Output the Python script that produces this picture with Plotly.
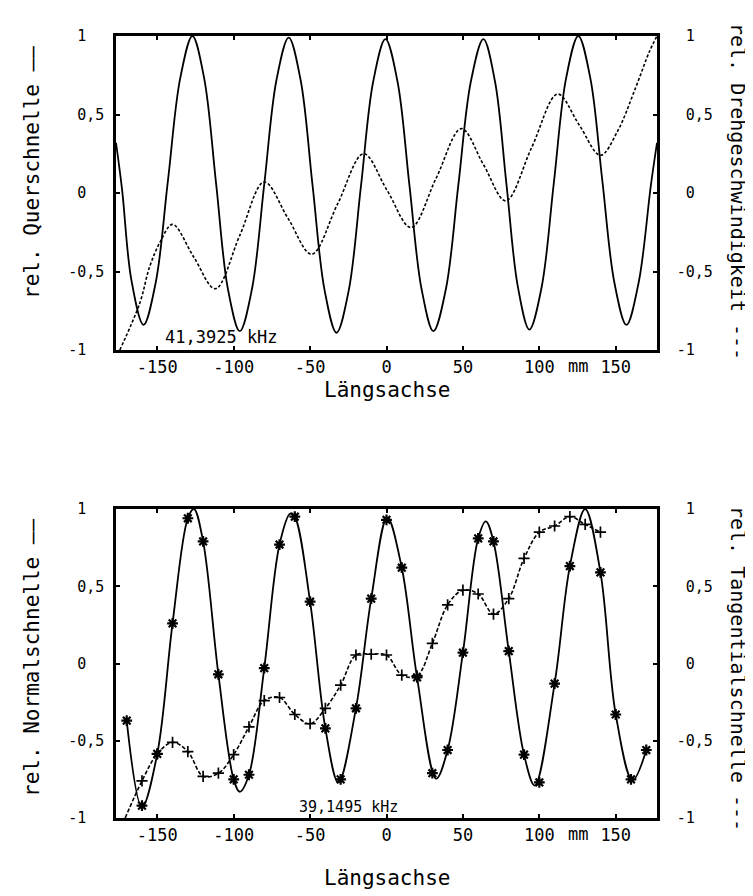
import plotly.graph_objects as go

# ---------------- data ----------------
# Top panel: 41,3925 kHz
top_solid_x = [-177, -173, -167, -159, -151, -143, -135, -127, -119.3, -111.5, -103.8, -96,
               -88, -80, -72, -64, -56.2, -48.4, -40.5, -32.7, -24.7, -16.7, -8.7, -0.7,
               7.2, 15, 22.9, 30.7, 38.9, 47, 55.2, 63.4, 71, 78.5, 86, 93.5,
               101.5, 109.5, 117.5, 125.5, 133.4, 141.2, 149.1, 157, 165, 173, 177]
top_solid_y = [0.32, 0.02, -0.55, -0.84, -0.57, 0.08, 0.73, 1.0, 0.73, 0.06, -0.61, -0.88,
               -0.61, 0.055, 0.72, 0.99, 0.72, 0.05, -0.62, -0.89, -0.62, 0.045, 0.71, 0.98,
               0.71, 0.05, -0.61, -0.88, -0.61, 0.05, 0.71, 0.98, 0.71, 0.055, -0.6, -0.87,
               -0.6, 0.065, 0.73, 1.0, 0.73, 0.08, -0.57, -0.84, -0.57, 0.05, 0.32]

top_dash_x = [-174.5, -161.4, -155, -148, -140, -126, -112, -96, -80, -64.5, -49, -32,
              -15, 0.5, 16, 32.5, 49, 63.5, 78, 95, 112, 126, 140, 151, 163, 172, 177]
top_dash_y = [-1.0, -0.7, -0.47, -0.31, -0.2, -0.41, -0.61, -0.27, 0.07, -0.16, -0.39, -0.07,
              0.25, 0.015, -0.22, 0.095, 0.41, 0.18, -0.05, 0.29, 0.63, 0.435, 0.24, 0.39, 0.67, 0.9, 1.0]

# Bottom panel: 39,1495 kHz
# fitted normal-velocity curve
bot_solid_x = [-170, -160, -150, -140, -130, -126, -120, -110, -100, -96, -90, -80, -70, -63,
               -60, -50, -40, -31.5, -20, -10, 0.5, 10, 20, 32.5, 40, 50, 60, 65, 70, 80, 90,
               97, 110, 120, 130, 140, 150, 161, 170]
bot_solid_y = [-0.37, -0.93, -0.585, 0.26, 0.94, 1.0, 0.79, -0.07, -0.75, -0.83, -0.72, -0.03,
               0.77, 0.97, 0.95, 0.40, -0.42, -0.77, -0.29, 0.42, 0.945, 0.62, -0.09, -0.745,
               -0.56, 0.07, 0.81, 0.92, 0.79, 0.08, -0.59, -0.79, -0.13, 0.63, 1.0, 0.59,
               -0.33, -0.755, -0.56]
# measured normal velocity (asterisks)
bot_star_x = [-170, -160, -150, -140, -130, -120, -110, -100, -90, -80, -70, -60, -50, -40,
              -30, -20, -10, 0, 10, 20, 30, 40, 50, 60, 70, 80, 90, 100, 110, 120, 140,
              150, 160, 170]
bot_star_y = [-0.37, -0.92, -0.585, 0.26, 0.94, 0.79, -0.07, -0.75, -0.72, -0.03, 0.77, 0.95,
              0.40, -0.42, -0.75, -0.29, 0.42, 0.93, 0.62, -0.09, -0.71, -0.56, 0.07, 0.81,
              0.79, 0.08, -0.59, -0.77, -0.13, 0.63, 0.59, -0.33, -0.75, -0.56]
# measured tangential velocity (plus signs)
bot_plus_x = [-160, -150, -140, -130, -120, -110, -100, -90, -80, -70, -60, -50, -40, -30,
              -20, -10, 0, 10, 20, 30, 40, 50, 60, 70, 80, 90, 100, 110, 120, 130, 140]
bot_plus_y = [-0.76, -0.585, -0.51, -0.57, -0.73, -0.71, -0.59, -0.41, -0.24, -0.22, -0.33,
              -0.39, -0.29, -0.14, 0.055, 0.06, 0.055, -0.075, -0.08, 0.13, 0.38, 0.475, 0.45,
              0.32, 0.42, 0.68, 0.85, 0.89, 0.95, 0.90, 0.85]
bot_dash_start_x = [-171]
bot_dash_start_y = [-1.0]

x_ticks = [-150, -100, -50, 0, 50, 100, 150]
x_ticktext = ["-150", "-100", "-50", "0", "50", "100", "150"]
y_ticks = [-1, -0.5, 0, 0.5, 1]
y_ticktext_left = ["-1\u00a0\u00a0", "-0,5", "0\u00a0\u00a0", "0,5", "1\u00a0\u00a0"]
y_ticktext_right = ["-1", "-0,5", "\u00a00", "\u00a00,5", "\u00a01"]

freq_top = "41,3925 kHz"
freq_bot = "39,1495 kHz"

# ---------------- figure ----------------
MONO = "DejaVu Sans Mono"
OFFX, OFFY = 6, 7  # page offset of the plot div
W, H = 747, 888
L, R, T, B = 108, 98, 28, 78
PH = H - T - B
PW = W - L - R
def py(p):
    # reference pixel y -> paper fraction
    return (H - B - (p - OFFY)) / PH
def px(p):
    return (p - OFFX - L) / PW

fig = go.Figure()
blk = "black"

fig.add_trace(go.Scatter(x=top_solid_x, y=top_solid_y, mode="lines",
                         line=dict(color=blk, width=1.8, shape="spline", smoothing=1),
                         xaxis="x", yaxis="y", showlegend=False))
fig.add_trace(go.Scatter(x=top_dash_x, y=top_dash_y, mode="lines",
                         line=dict(color=blk, width=1.6, dash="3px,2px", shape="spline", smoothing=1),
                         xaxis="x", yaxis="y2", showlegend=False))

fig.add_trace(go.Scatter(x=bot_solid_x, y=bot_solid_y, mode="lines",
                         line=dict(color=blk, width=1.8, shape="spline", smoothing=1),
                         xaxis="x2", yaxis="y3", showlegend=False))
fig.add_trace(go.Scatter(x=bot_star_x, y=bot_star_y, mode="markers",
                         marker=dict(symbol="asterisk-open", size=9, color=blk,
                                     line=dict(color=blk, width=2.2)),
                         xaxis="x2", yaxis="y3", showlegend=False))
fig.add_trace(go.Scatter(x=bot_dash_start_x + bot_plus_x, y=bot_dash_start_y + bot_plus_y,
                         mode="lines",
                         line=dict(color=blk, width=1.6, dash="4px,2px", shape="spline", smoothing=1),
                         xaxis="x2", yaxis="y4", showlegend=False))
fig.add_trace(go.Scatter(x=bot_plus_x, y=bot_plus_y, mode="markers",
                         marker=dict(symbol="cross-thin-open", size=8, color=blk,
                                     line=dict(color=blk, width=1.7)),
                         xaxis="x2", yaxis="y4", showlegend=False))

xtickfont = dict(family=MONO, size=17, color=blk)
ytickfont = dict(family=MONO, size=15, color=blk)
xcommon = dict(range=[-177, 177], tickmode="array", tickvals=x_ticks, ticktext=x_ticktext,
               ticks="inside", ticklen=4, tickwidth=1.5, tickcolor=blk,
               showline=True, linewidth=2.5, linecolor=blk, mirror="ticks",
               showgrid=False, zeroline=False, tickfont=xtickfont, ticklabelstandoff=0)
yleft = dict(range=[-1, 1], tickmode="array", tickvals=y_ticks, ticktext=y_ticktext_left,
             ticks="inside", ticklen=4, tickwidth=1.5, tickcolor=blk,
             showline=True, linewidth=2.5, linecolor=blk, mirror=True,
             showgrid=False, zeroline=False, tickfont=ytickfont, ticklabelstandoff=6)
yright = dict(range=[-1, 1], tickmode="array", tickvals=y_ticks, ticktext=y_ticktext_right,
              ticks="inside", ticklen=4, tickwidth=1.5, tickcolor=blk, side="right",
              showline=True, linewidth=2.5, linecolor=blk,
              showgrid=False, zeroline=False, tickfont=ytickfont, ticklabelstandoff=14)

top0 = py(349)
bot1 = py(508)
fig.update_layout(
    width=W, height=H, margin=dict(l=L, r=R, t=T, b=B),
    paper_bgcolor="white", plot_bgcolor="white",
    xaxis=dict(domain=[0, 1], anchor="y", **xcommon),
    yaxis=dict(domain=[top0, 1], anchor="x", **yleft),
    yaxis2=dict(overlaying="y", anchor="x", **yright),
    xaxis2=dict(domain=[0, 1], anchor="y3", **xcommon),
    yaxis3=dict(domain=[0, bot1], anchor="x2", **yleft),
    yaxis4=dict(overlaying="y3", anchor="x2", **yright),
)

ann = []
def add(text, x, y, xref="paper", yref="paper", angle=0, font=None):
    ann.append(dict(text=text, x=x, y=y, xref=xref, yref=yref, textangle=angle,
                    xanchor="center", yanchor="middle", showarrow=False, font=font))

lt_font = dict(family=MONO, size=21, color=blk)
rt_font = dict(family=MONO, size=20, color=blk)
xl_font = dict(family=MONO, size=21, color=blk)
add("rel. Querschnelle \u2014\u2014", px(30), py(172), angle=-90, font=lt_font)
add("rel. Drehgeschwindigkeit ---", px(736), py(190), angle=90, font=rt_font)
add("rel. Normalschnelle \u2014\u2014", px(30), py(657), angle=-90, font=lt_font)
add("rel. Tangentialschnelle ---", px(736), py(667), angle=90, font=rt_font)
add("Längsachse", px(385), py(389), font=xl_font)
add("Längsachse", px(385), py(877), font=xl_font)
add("mm", 125, py(365), xref="x", font=xtickfont)
add("mm", 125, py(833), xref="x2", font=xtickfont)
add(freq_top, -108, -0.92, xref="x", yref="y", font=dict(family=MONO, size=17, color=blk))
add(freq_bot, -25, -0.93, xref="x2", yref="y3", font=dict(family=MONO, size=15, color=blk))
fig.update_layout(annotations=ann)

fig.write_html("out.html")
